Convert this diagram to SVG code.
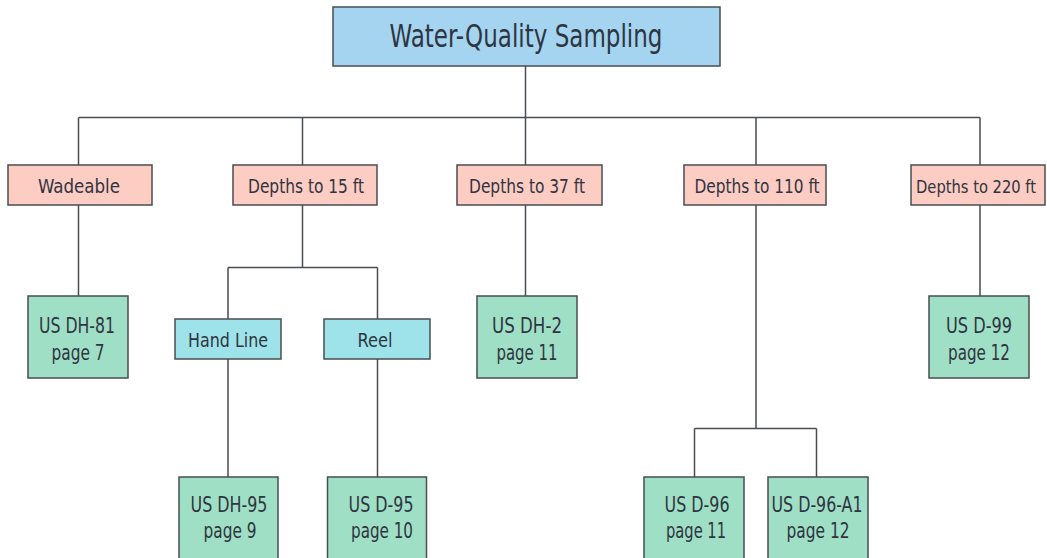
<svg xmlns="http://www.w3.org/2000/svg" width="1047" height="558" viewBox="0 0 1047 558">
<style>
text{font-family:"Liberation Sans Narrow","DejaVu Sans Condensed",Roboto,"Liberation Sans",sans-serif;fill:#2f3540;text-anchor:middle}
.box{stroke:#4a4d52;stroke-width:1.5}
.t{fill:#a4d4f0}
.p{fill:#fdccc3}
.c{fill:#9ee3ea}
.g{fill:#9fdfc6}
.l1{font-size:20px}
.l2{font-size:21px}
.conn{fill:none;stroke:#4a4d52;stroke-width:1.5}
</style>
<g id="connectors">
<path class="conn" d="M525.5 66V117.5M78.5 117.5H980M78.5 117.5V165M302.5 117.5V165M525.5 117.5V165M756 117.5V165M980 117.5V165"/>
<path class="conn" d="M78.5 205V296M302.5 205V267.5M228 267.5H377.5M228 267.5V319M377.5 267.5V319M228 359V477M377.5 359V477"/>
<path class="conn" d="M525.5 205V296M980 205V296M756 205V428.5M694.5 428.5H816.5M694.5 428.5V477M816.5 428.5V477"/>
</g>
<g id="n-root"><rect class="box t" x="333" y="7" width="387" height="59"/><text x="526" y="47" font-size="32" textLength="273" lengthAdjust="spacingAndGlyphs">Water-Quality Sampling</text></g>
<g id="n-wadeable"><rect class="box p" x="8" y="165" width="144" height="40"/><text class="l1" x="79" y="193" textLength="82" lengthAdjust="spacingAndGlyphs">Wadeable</text></g>
<g id="n-d15"><rect class="box p" x="233" y="165" width="144" height="40"/><text class="l1" x="306" y="193" textLength="116" lengthAdjust="spacingAndGlyphs">Depths to 15 ft</text></g>
<g id="n-d37"><rect class="box p" x="457" y="165" width="145" height="40"/><text class="l1" x="527" y="193" textLength="116" lengthAdjust="spacingAndGlyphs">Depths to 37 ft</text></g>
<g id="n-d110"><rect class="box p" x="684" y="165" width="142" height="40"/><text class="l1" x="757" y="193" textLength="125" lengthAdjust="spacingAndGlyphs">Depths to 110 ft</text></g>
<g id="n-d220"><rect class="box p" x="911" y="165" width="134" height="40"/><text x="976" y="193" font-size="18" textLength="120" lengthAdjust="spacingAndGlyphs">Depths to 220 ft</text></g>
<g id="n-handline"><rect class="box c" x="175" y="319" width="106" height="40"/><text class="l1" x="228" y="347" textLength="80" lengthAdjust="spacingAndGlyphs">Hand Line</text></g>
<g id="n-reel"><rect class="box c" x="324" y="319" width="106" height="40"/><text class="l1" x="375" y="347" textLength="35" lengthAdjust="spacingAndGlyphs">Reel</text></g>
<g id="n-dh81"><rect class="box g" x="28" y="296" width="100" height="82"/><text class="l2" x="77" y="333" textLength="76" lengthAdjust="spacingAndGlyphs">US DH-81</text><text class="l2" x="78" y="360" textLength="53" lengthAdjust="spacingAndGlyphs">page 7</text></g>
<g id="n-dh2"><rect class="box g" x="477" y="296" width="100" height="82"/><text class="l2" x="527" y="333" textLength="70" lengthAdjust="spacingAndGlyphs">US DH-2</text><text class="l2" x="527" y="360" textLength="61" lengthAdjust="spacingAndGlyphs">page 11</text></g>
<g id="n-d99"><rect class="box g" x="929" y="296" width="100" height="82"/><text class="l2" x="979" y="333" textLength="66" lengthAdjust="spacingAndGlyphs">US D-99</text><text class="l2" x="979" y="360" textLength="62" lengthAdjust="spacingAndGlyphs">page 12</text></g>
<g id="n-dh95"><rect class="box g" x="179" y="477" width="99" height="90"/><text class="l2" x="229" y="512" textLength="77" lengthAdjust="spacingAndGlyphs">US DH-95</text><text class="l2" x="230" y="538" textLength="53" lengthAdjust="spacingAndGlyphs">page 9</text></g>
<g id="n-d95"><rect class="box g" x="327.5" y="477" width="99" height="90"/><text class="l2" x="381" y="512" textLength="65" lengthAdjust="spacingAndGlyphs">US D-95</text><text class="l2" x="382" y="538" textLength="62" lengthAdjust="spacingAndGlyphs">page 10</text></g>
<g id="n-d96"><rect class="box g" x="644" y="477" width="100" height="90"/><text class="l2" x="697" y="512" textLength="65" lengthAdjust="spacingAndGlyphs">US D-96</text><text class="l2" x="696" y="538" textLength="60" lengthAdjust="spacingAndGlyphs">page 11</text></g>
<g id="n-d96a1"><rect class="box g" x="768" y="477" width="100" height="90"/><text class="l2" x="817" y="512" textLength="91" lengthAdjust="spacingAndGlyphs">US D-96-A1</text><text class="l2" x="818" y="538" textLength="63" lengthAdjust="spacingAndGlyphs">page 12</text></g>
</svg>
